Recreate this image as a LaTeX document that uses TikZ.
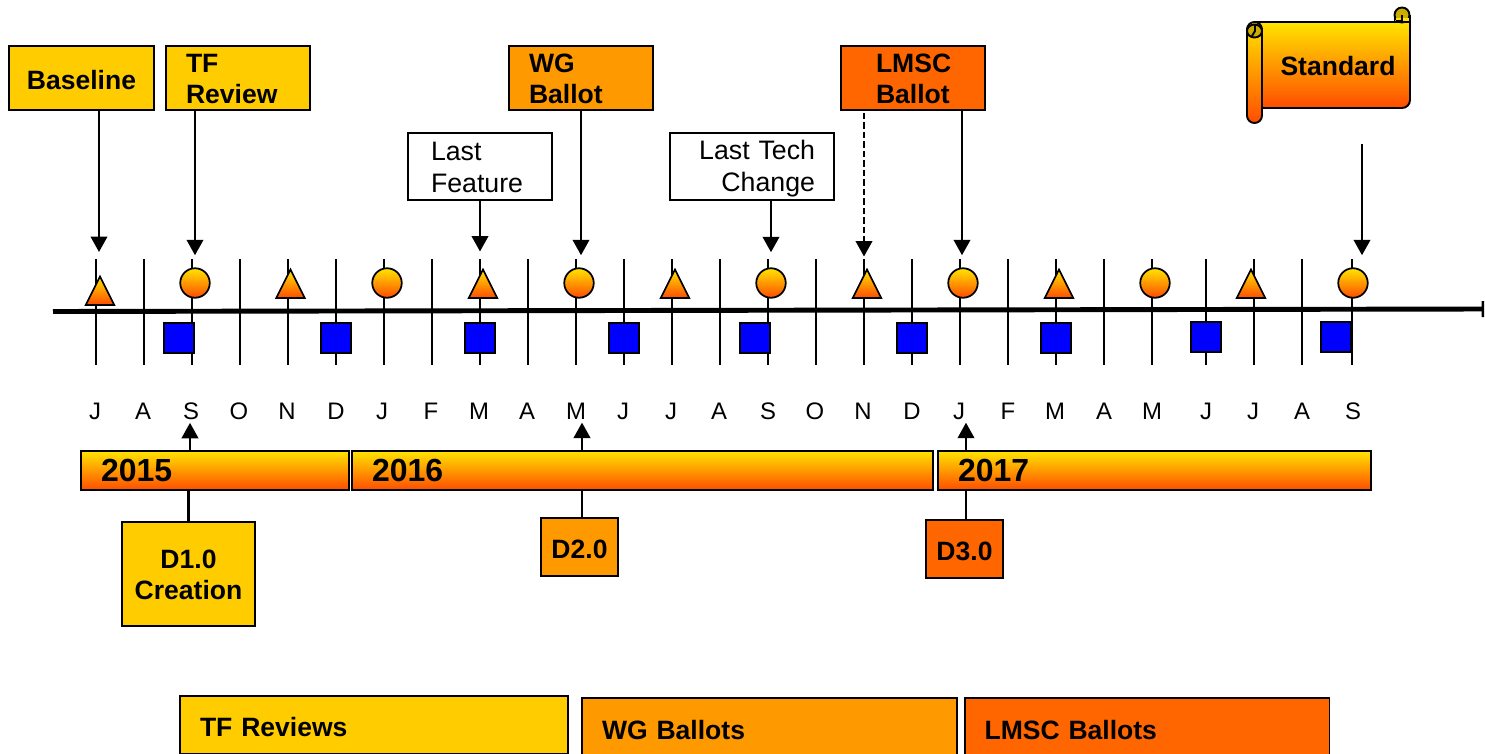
\documentclass[tikz,border=0pt]{standalone}
\usepackage{fontspec}
\setmainfont{Liberation Sans}
\usetikzlibrary{arrows.meta,shapes.geometric}
\definecolor{tfcolor}{RGB}{255,204,0}
\definecolor{wgcolor}{RGB}{255,153,0}
\definecolor{lmsccolor}{RGB}{255,102,0}
\definecolor{gradtop}{RGB}{255,228,0}
\definecolor{gradmid}{RGB}{255,172,0}
\definecolor{gradbottom}{RGB}{255,76,0}
\definecolor{curlcolor}{RGB}{204,172,0}
\tikzset{
    gradfill/.style={top color=gradtop, middle color=gradmid, bottom color=gradbottom},
    label box/.style={draw, line width=1.1pt, outer sep=0pt, inner sep=0pt, align=center, text height=0.46cm, font=\fontsize{15.1}{18}\selectfont\bfseries},
    two line box/.style={draw, line width=1.1pt, outer sep=0pt, inner sep=0pt, text height=0.4cm, minimum height=1.28cm, font=\fontsize{15.1}{18}\selectfont\bfseries},
    note box/.style={draw, line width=0.8pt, outer sep=0pt, inner sep=0pt, fill=white, minimum height=1.34cm, font=\fontsize{15.2}{18}\selectfont},
    year bar/.style={draw, line width=1.1pt, outer sep=0pt, inner sep=0pt, minimum height=0.78cm, gradfill, text depth=0pt, font=\fontsize{18.2}{18}\selectfont\bfseries},
    marker tri/.style={isosceles triangle, isosceles triangle stretches, shape border rotate=90, minimum width=0.57cm, minimum height=0.57cm, inner sep=0pt, outer sep=0pt, anchor=apex, draw, line width=1pt, gradfill},
    marker circ/.style={circle, minimum size=0.59cm, inner sep=0pt, outer sep=0pt, draw, line width=1pt, gradfill},
    marker sq/.style={rectangle, minimum size=0.59cm, inner sep=0pt, outer sep=0pt, draw, line width=1pt, fill=blue},
    month/.style={font=\fontsize{13.6}{16}\selectfont, inner sep=0pt},
    tick line/.style={line width=0.85pt},
    pointer/.style={-{Triangle[length=0.31cm,width=0.33cm]}, line width=1.4pt},
    stem/.style={line width=1.3pt}
}
\begin{document}
\begin{tikzpicture}[x=0.02cm,y=-0.02cm]
    \useasboundingbox (0,0) rectangle (1485,754);

    \draw[tick line] (96,259) -- (96,365);
    \draw[tick line] (144,259) -- (144,365);
    \draw[tick line] (192,259) -- (192,365);
    \draw[tick line] (240,259) -- (240,365);
    \draw[tick line] (288,259) -- (288,365);
    \draw[tick line] (336,259) -- (336,365);
    \draw[tick line] (384,259) -- (384,365);
    \draw[tick line] (432,259) -- (432,365);
    \draw[tick line] (480,259) -- (480,365);
    \draw[tick line] (528,259) -- (528,365);
    \draw[tick line] (576,259) -- (576,365);
    \draw[tick line] (624,259) -- (624,365);
    \draw[tick line] (672,259) -- (672,365);
    \draw[tick line] (720,259) -- (720,365);
    \draw[tick line] (768,259) -- (768,365);
    \draw[tick line] (816,259) -- (816,365);
    \draw[tick line] (864,259) -- (864,365);
    \draw[tick line] (912,259) -- (912,365);
    \draw[tick line] (960,259) -- (960,365);
    \draw[tick line] (1008,259) -- (1008,365);
    \draw[tick line] (1056,259) -- (1056,365);
    \draw[tick line] (1104,259) -- (1104,365);
    \draw[tick line] (1152,259) -- (1152,365);
    \draw[tick line] (1206,259) -- (1206,365);
    \draw[tick line] (1254,259) -- (1254,365);
    \draw[tick line] (1302,259) -- (1302,365);
    \draw[tick line] (1352,259) -- (1352,365);

    \coordinate (axisstart) at (53,311.5);
    \coordinate (axisend) at (1484,309);
    \draw[line width=2.8pt, -{Bar[width=0.32cm,line width=1.4pt]}] (axisstart) -- (axisend);

    \node[marker tri] (tria) at (100,276.5) {};
    \node[marker tri] (trib) at (290.5,269.5) {};
    \node[marker tri] (tric) at (483,269.5) {};
    \node[marker tri] (trid) at (675,269.5) {};
    \node[marker tri] (trie) at (867,269.5) {};
    \node[marker tri] (trif) at (1059,269.5) {};
    \node[marker tri] (trig) at (1251,269.5) {};

    \node[marker circ] (circa) at (195,283) {};
    \node[marker circ] (circb) at (387,283) {};
    \node[marker circ] (circc) at (579,283) {};
    \node[marker circ] (circd) at (771,283) {};
    \node[marker circ] (circe) at (963,283) {};
    \node[marker circ] (circf) at (1155,283) {};
    \node[marker circ] (circg) at (1353,283) {};

    \node[marker sq] (sqa) at (179,338) {};
    \node[marker sq] (sqb) at (336,338) {};
    \node[marker sq] (sqc) at (480,338) {};
    \node[marker sq] (sqd) at (624,338) {};
    \node[marker sq] (sqe) at (755,338) {};
    \node[marker sq] (sqf) at (912,338) {};
    \node[marker sq] (sqg) at (1056,338) {};
    \node[marker sq] (sqh) at (1206,337) {};
    \node[marker sq] (sqi) at (1336,337) {};

    \node[month] (mona) at (95,411) {J};
    \node[month] (monb) at (143,411) {A};
    \node[month] (monc) at (191,411) {S};
    \node[month] (mond) at (239,411) {O};
    \node[month] (mone) at (287,411) {N};
    \node[month] (monf) at (336,411) {D};
    \node[month] (mong) at (382,411) {J};
    \node[month] (monh) at (431,411) {F};
    \node[month] (moni) at (479,411) {M};
    \node[month] (monj) at (527,411) {A};
    \node[month] (monk) at (576,411) {M};
    \node[month] (monl) at (623,411) {J};
    \node[month] (monm) at (671,411) {J};
    \node[month] (monn) at (719,411) {A};
    \node[month] (mono) at (768,411) {S};
    \node[month] (monp) at (815,411) {O};
    \node[month] (monq) at (863,411) {N};
    \node[month] (monr) at (912,411) {D};
    \node[month] (mons) at (959,411) {J};
    \node[month] (mont) at (1008,411) {F};
    \node[month] (monu) at (1055,411) {M};
    \node[month] (monv) at (1104,411) {A};
    \node[month] (monw) at (1152,411) {M};
    \node[month] (monx) at (1206,411) {J};
    \node[month] (mony) at (1253,411) {J};
    \node[month] (monz) at (1302,411) {A};
    \node[month] (monzz) at (1353,411) {S};

    \node[label box, fill=tfcolor, minimum width=2.9cm, minimum height=1.28cm] (baseline) at (81.5,78) {Baseline};
    \node[two line box, fill=tfcolor, inner xsep=0.4cm, text width=2.08cm, align=left] (tfreview) at (238,78) {TF\\Review};
    \node[two line box, fill=wgcolor, inner xsep=0.4cm, text width=2.08cm, align=left] (wgballot) at (581,78) {WG\\Ballot};
    \node[two line box, fill=lmsccolor, inner xsep=0.7cm, text width=1.48cm, align=left] (lmscballot) at (913,78) {LMSC\\Ballot};
    \node[note box, text height=0.4cm, inner xsep=0.46cm, text width=1.96cm, align=left] (lastfeature) at (480,166.5) {Last\\Feature};
    \node[note box, text height=0.46cm, inner xsep=0.38cm, text width=2.52cm, align=right] (lasttech) at (752,166.5) {Last Tech\\Change};

    \node[year bar, minimum width=5.36cm, inner xsep=0.4cm, text width=4.56cm, align=left] (yeara) at (215,470.5) {2015};
    \node[year bar, minimum width=11.62cm, inner xsep=0.4cm, text width=10.82cm, align=left] (yearb) at (642.5,470.5) {2016};
    \node[year bar, minimum width=8.66cm, inner xsep=0.4cm, text width=7.86cm, align=left] (yearc) at (1154.5,470.5) {2017};

    \node[two line box, fill=tfcolor, text width=2.66cm, minimum height=2.08cm, align=center] (dfirst) at (188.5,574) {D1.0\\Creation};
    \node[label box, fill=wgcolor, minimum width=1.54cm, minimum height=1.16cm] (dsecond) at (579.5,547) {D2.0};
    \node[label box, fill=lmsccolor, minimum width=1.54cm, minimum height=1.16cm] (dthird) at (964.5,549) {D3.0};

    \node[label box, fill=tfcolor, minimum width=7.76cm, minimum height=1.16cm, inner xsep=0.4cm, text width=6.96cm, align=left] (tfkey) at (374,725) {TF Reviews};
    \node[label box, fill=wgcolor, minimum width=7.5cm, minimum height=1.2cm, inner xsep=0.4cm, text width=6.7cm, align=left] (wgkey) at (769.5,728) {WG Ballots};
    \node[label box, fill=lmsccolor, minimum width=7.3cm, minimum height=1.2cm, inner xsep=0.4cm, text width=6.5cm, align=left] (lmsckey) at (1147,728) {LMSC Ballots};

    \draw[pointer, shorten >=0.49cm] ([xshift=-0.02cm]baseline.south -| tria.apex) -- ([xshift=-0.02cm]tria.apex);
    \draw[pointer, shorten >=0.26cm] (tfreview.south -| circa.north) -- (circa.north);
    \draw[pointer, shorten >=0.36cm] ([xshift=-0.06cm]lastfeature.south -| tric.apex) -- ([xshift=-0.06cm]tric.apex);
    \draw[pointer, shorten >=0.26cm] ([xshift=0.04cm]wgballot.south -| circc.north) -- ([xshift=0.04cm]circc.north);
    \draw[pointer, shorten >=0.32cm] ([yshift=-0.03cm]lasttech.south -| circd.north) -- (circd.north);
    \draw[pointer, dash pattern=on 3.6pt off 1.8pt, shorten >=0.26cm] ([xshift=-0.06cm,yshift=-0.06cm]lmscballot.south -| trie.apex) -- ([xshift=-0.06cm]trie.apex);
    \draw[pointer, shorten >=0.26cm] ([xshift=-0.02cm]lmscballot.south -| circe.north) -- ([xshift=-0.02cm]circe.north);

    \draw[stem] (dfirst.north) -- (dfirst.north |- yeara.south);
    \draw[stem] ([xshift=0.05cm]dsecond.north) -- ([xshift=0.05cm]dsecond.north |- yearb.south);
    \draw[stem] ([xshift=0.03cm]dthird.north) -- ([xshift=0.03cm]dthird.north |- yearc.south);

    \draw[pointer, shorten >=0.06cm] ([xshift=0.03cm]dfirst.north |- yeara.north) -- ([xshift=0.03cm]dfirst.north |- monc.south);
    \draw[pointer, shorten >=0.06cm] ([xshift=0.05cm]dsecond.north |- yearb.north) -- ([xshift=0.05cm]dsecond.north |- monk.south);
    \draw[pointer, shorten >=0.06cm] ([xshift=0.03cm]dthird.north |- yearc.north) -- ([xshift=0.03cm]dthird.north |- mons.south);

    \draw[line width=1.1pt, gradfill] (1410,22) [rounded corners=0.16cm] -- (1410,108) -- (1256,108) [sharp corners] -- (1256,22) -- cycle;
    \draw[line width=1.1pt, fill=curlcolor] (1402,15) circle (7.5);
    \fill[gradtop] (1396,18) rectangle (1408.5,21.4);
    \draw[line width=1.1pt] (1394.5,22) -- (1394.5,15);
    \draw[line width=1.1pt] (1410,22) -- (1410,15);
    \draw[line width=1.1pt] (1402,15) -- (1402,21) -- (1396,21);
    \draw[line width=1.1pt, gradfill, rounded corners=0.15cm] (1247,22) -- (1262,22) -- (1262,123) -- (1247,123) -- cycle;
    \draw[line width=1.1pt, fill=curlcolor] (1254.5,31) ellipse (7.5 and 6.5);
    \draw[line width=1.1pt] (1255,25) -- (1255,31) -- (1252,36);
    \node[inner sep=0pt, font=\fontsize{15.1}{18}\selectfont\bfseries] (standard) at (1338,66) {Standard};

    \coordinate (standardfoot) at (1362,144);
    \draw[pointer, shorten >=0.26cm] (standardfoot) -- (standardfoot |- circg.north);
\end{tikzpicture}
\end{document}
